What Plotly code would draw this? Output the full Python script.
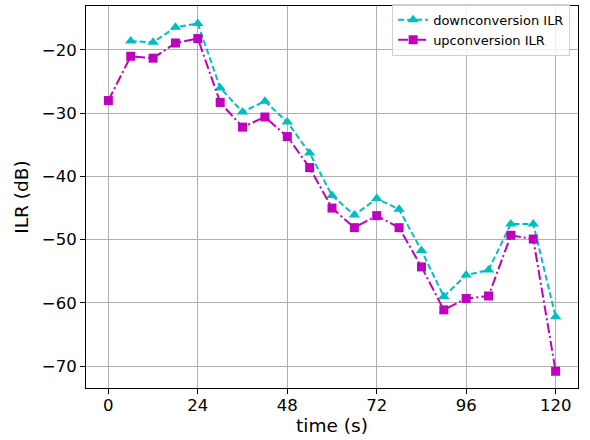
import plotly.graph_objects as go

time_down = [6, 12, 18, 24, 30, 36, 42, 48, 54, 60, 66, 72, 78, 84, 90, 96, 102, 108, 114, 120]
ilr_down = [-18.6, -18.8, -16.4, -15.8, -26.0, -29.8, -28.1, -31.4, -36.3, -43.0, -46.1,
            -43.5, -45.2, -51.7, -59.0, -55.6, -54.8, -47.5, -47.5, -62.2]

time_up = [0, 6, 12, 18, 24, 30, 36, 42, 48, 54, 60, 66, 72, 78, 84, 90, 96, 102, 108, 114, 120]
ilr_up = [-28.0, -21.0, -21.3, -18.9, -18.2, -28.3, -32.2, -30.6, -33.7, -38.6, -45.0,
          -48.1, -46.2, -48.1, -54.3, -61.1, -59.3, -58.9, -49.3, -49.9, -70.8]

x_ticks = [0, 24, 48, 72, 96, 120]
y_ticks = [-70, -60, -50, -40, -30, -20]

fig = go.Figure()
fig.add_trace(go.Scatter(
    x=time_down, y=ilr_down, mode="lines+markers", name="downconversion ILR",
    line=dict(color="#00bfbf", width=2, dash="6px,3px"),
    marker=dict(symbol="triangle-up", size=10, color="#00bfbf"),
))
fig.add_trace(go.Scatter(
    x=time_up, y=ilr_up, mode="lines+markers", name="upconversion ILR",
    line=dict(color="#bf00bf", width=2, dash="10px,3px,2px,3px"),
    marker=dict(symbol="square", size=9, color="#bf00bf"),
))

axis_common = dict(
    showgrid=True, gridcolor="#b0b0b0", gridwidth=1,
    showline=True, linecolor="black", linewidth=1, mirror=True,
    ticks="outside", ticklen=5, tickcolor="black",
    zeroline=False, automargin=False,
    tickfont=dict(family="DejaVu Sans", size=16.5, color="black"),
)

fig.update_xaxes(
    range=[-6, 126], tickvals=x_ticks, ticklabelstandoff=-3,
    title=dict(text="time (s)", font=dict(family="DejaVu Sans", size=18.5, color="black"), standoff=2),
    **axis_common,
)
fig.update_yaxes(
    range=[-73.45, -13.05], tickvals=y_ticks,
    title=dict(text="ILR (dB)", font=dict(family="DejaVu Sans", size=18.5, color="black"), standoff=8),
    **axis_common,
)

fig.update_layout(
    width=590, height=440,
    margin=dict(l=86, r=12, t=5, b=52),
    paper_bgcolor="white", plot_bgcolor="white",
    font=dict(family="DejaVu Sans", color="black"),
    legend=dict(
        x=0.984, y=1.003, xanchor="right", yanchor="top",
        bgcolor="rgba(255,255,255,0.8)", bordercolor="#d0d0d0", borderwidth=1,
        font=dict(family="DejaVu Sans", size=13, color="black"),
        tracegroupgap=0, itemwidth=30,
    ),
)

fig.write_html("out.html", config={"displayModeBar": False},
               post_script="document.body.style.margin='0';")
